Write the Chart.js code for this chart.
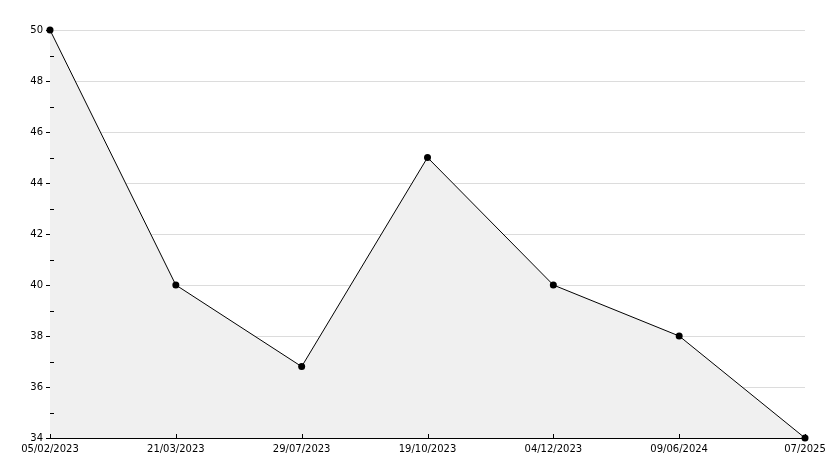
<!DOCTYPE html>
<html>
<head>
<meta charset="utf-8">
<script src="https://cdn.jsdelivr.net/npm/chart.js@4/dist/chart.umd.min.js"></script>
<style>
  html, body { margin: 0; padding: 0; background: #fff; }
  #wrap { width: 834px; height: 468px; }
</style>
</head>
<body>
<div id="wrap"><canvas id="myChart" width="834" height="468"></canvas></div>
<script>
// data
const dates = ['05/02/2023', '21/03/2023', '29/07/2023', '19/10/2023', '04/12/2023', '09/06/2024', '07/2025'];
const values = [50, 40, 36.8, 45, 40, 38, 34];
const yMin = 34;
const yMax = 50;

const FONT = { family: 'DejaVu Sans', size: 10 };

// short inward ticks: odd values on y, every category on x
const innerTicks = {
    id: 'innerTicks',
    afterDatasetsDraw(chart) {
        const ctx = chart.ctx;
        const x = chart.scales.x;
        const y = chart.scales.y;
        ctx.save();
        ctx.strokeStyle = '#000';
        ctx.lineWidth = 1;
        ctx.beginPath();
        for (let v = yMin + 1; v < yMax; v += 2) {
            const py = Math.round(y.getPixelForValue(v)) + 0.5;
            ctx.moveTo(x.left, py);
            ctx.lineTo(x.left + 4, py);
        }
        dates.forEach((d, i) => {
            const px = Math.round(x.getPixelForValue(i)) + 0.5;
            ctx.moveTo(px, y.bottom);
            ctx.lineTo(px, y.bottom - 4);
        });
        ctx.stroke();
        ctx.restore();
    }
};

new Chart('myChart', {
    type: 'line',
    data: {
        labels: dates,
        datasets: [{
            data: values,
            clip: false,
            borderColor: '#000',
            borderWidth: 1,
            backgroundColor: '#f0f0f0',
            fill: 'start',
            tension: 0,
            pointRadius: 3.5,
            pointBackgroundColor: '#000',
            pointBorderColor: '#000',
            pointBorderWidth: 0
        }]
    },
    options: {
        responsive: false,
        animation: false,
        layout: { padding: { top: 30, right: 29, left: 0, bottom: 0 } },
        plugins: { legend: { display: false }, tooltip: { enabled: false } },
        scales: {
            x: {
                offset: false,
                afterFit: (s) => { s.height = 30; },
                grid: { display: true, drawOnChartArea: false, drawTicks: false },
                border: { color: '#000', width: 1 },
                ticks: { color: '#000', font: FONT, padding: 5, maxRotation: 0, autoSkip: false }
            },
            y: {
                min: yMin,
                max: yMax,
                afterFit: (s) => { s.width = 50; },
                grid: {
                    color: (c) => (c.tick && c.tick.value % 2 === 0 && c.tick.value !== yMin) ? '#dcdcdc' : 'rgba(0,0,0,0)',
                    tickColor: (c) => (c.tick && c.tick.value % 2 === 0) ? '#000' : 'rgba(0,0,0,0)',
                    tickLength: 4
                },
                border: { color: '#000', width: 1 },
                ticks: {
                    stepSize: 1,
                    color: '#000',
                    font: FONT,
                    padding: 3,
                    callback: (v) => v % 2 === 0 ? v : ''
                }
            }
        }
    },
    plugins: [innerTicks]
});
</script>
</body>
</html>
